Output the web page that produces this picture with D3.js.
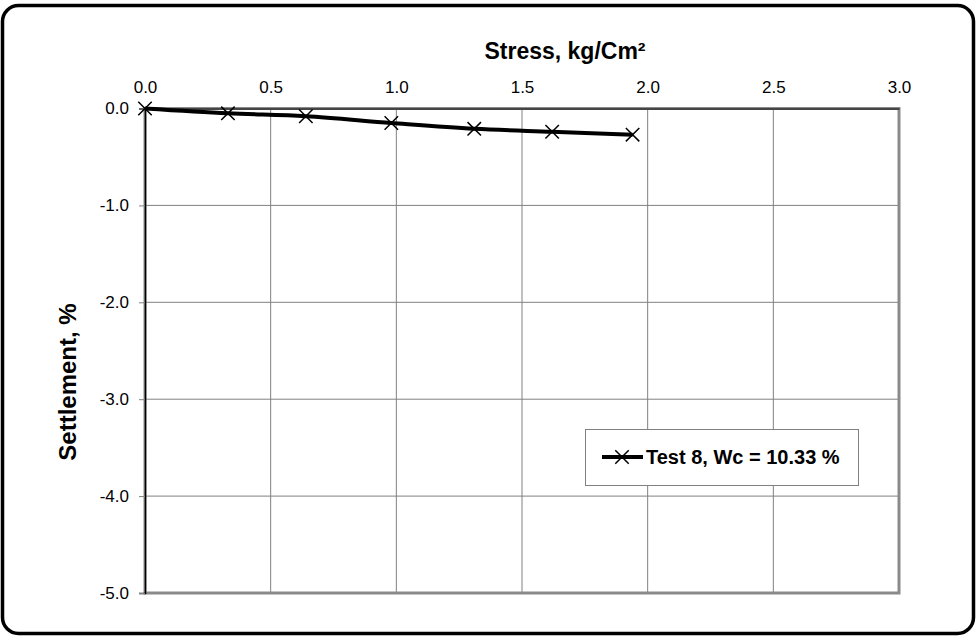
<!DOCTYPE html>
<html>
<head>
<meta charset="utf-8">
<script src="https://cdn.jsdelivr.net/npm/d3@7"></script>
<style>
  html, body { margin: 0; padding: 0; background: #fff; }
  svg { display: block; font-family: "Liberation Sans", Arial, sans-serif; }
</style>
</head>
<body>
<svg id="chart" width="976" height="637"></svg>
<script>
// Load test readings: applied stress (kg/cm²) and measured settlement (%)
const stress = [0, 0.33, 0.64, 0.98, 1.31, 1.62, 1.94];
const settlement = [0, -0.05, -0.08, -0.15, -0.21, -0.24, -0.27];
const seriesName = "Test 8, Wc = 10.33 %";

const xTicks = [0, 0.5, 1.0, 1.5, 2.0, 2.5, 3.0];
const yTicks = [0, -1, -2, -3, -4, -5];
const xTitle = "Stress, kg/Cm²";
const yTitle = "Settlement, %";

const svg = d3.select("#chart");
const W = 976, H = 637;
const plot = { left: 145, right: 899, top: 108.5, bottom: 593 };
const fmt = d => d.toFixed(1);

// Outer frame
svg.append("rect")
  .attr("x", 2.5).attr("y", 5.5)
  .attr("width", W - 5).attr("height", H - 9)
  .attr("rx", 16).attr("ry", 16)
  .attr("fill", "#fff").attr("stroke", "#000").attr("stroke-width", 3.5);

const x = d3.scaleLinear().domain([0, 3]).range([plot.left, plot.right]);
const y = d3.scaleLinear().domain([0, -5]).range([plot.top, plot.bottom]);

// Grid lines
const grid = svg.append("g");
grid.selectAll(".vg").data(xTicks.slice(1, -1)).join("line")
  .attr("x1", d => x(d)).attr("x2", d => x(d))
  .attr("y1", plot.top).attr("y2", plot.bottom)
  .attr("stroke", "#808080").attr("stroke-width", 1);
grid.selectAll(".hg").data(yTicks.slice(1, -1)).join("line")
  .attr("x1", plot.left).attr("x2", plot.right)
  .attr("y1", d => y(d)).attr("y2", d => y(d))
  .attr("stroke", "#808080").attr("stroke-width", 1);

// Plot area border
svg.append("rect")
  .attr("x", plot.left).attr("y", plot.top)
  .attr("width", plot.right - plot.left).attr("height", plot.bottom - plot.top)
  .attr("fill", "none").attr("stroke", "#8a8a8a").attr("stroke-width", 3);

// Top x axis (stress)
const xAxis = svg.append("g")
  .attr("transform", `translate(0,${plot.top})`)
  .call(d3.axisTop(x).tickValues(xTicks).tickFormat(fmt).tickSize(0).tickPadding(16));
xAxis.select(".domain").attr("stroke", "#000").attr("stroke-width", 1);
xAxis.selectAll("text").attr("font-size", 17).attr("fill", "#000")
  .attr("font-family", "Liberation Sans, Arial, sans-serif");

// Left y axis (settlement)
const yAxis = svg.append("g")
  .attr("transform", `translate(${plot.left},0)`)
  .call(d3.axisLeft(y).tickValues(yTicks).tickFormat(fmt).tickSize(6).tickPadding(10));
yAxis.select(".domain").attr("stroke", "#000").attr("stroke-width", 1.5);
yAxis.selectAll(".tick line").attr("stroke", "#808080");
yAxis.selectAll("text").attr("font-size", 17).attr("fill", "#000")
  .attr("font-family", "Liberation Sans, Arial, sans-serif");

// Axis titles
svg.append("text")
  .attr("x", 565).attr("y", 59)
  .attr("text-anchor", "middle")
  .attr("font-size", 23).attr("font-weight", "bold")
  .text(xTitle);
svg.append("text")
  .attr("transform", "translate(76,382) rotate(-90)")
  .attr("text-anchor", "middle")
  .attr("font-size", 24).attr("font-weight", "bold")
  .text(yTitle);

// Series line (smoothed) and X markers
const pts = stress.map((s, i) => [s, settlement[i]]);
const line = d3.line().x(d => x(d[0])).y(d => y(d[1])).curve(d3.curveCatmullRom.alpha(0.5));
svg.append("path")
  .attr("d", line(pts))
  .attr("fill", "none").attr("stroke", "#000").attr("stroke-width", 4)
  .attr("stroke-linejoin", "round");

const cross = d3.symbol().type(d3.symbolX).size(120);
svg.selectAll(".mk").data(pts).join("path")
  .attr("transform", d => `translate(${x(d[0])},${y(d[1])})`)
  .attr("d", cross)
  .attr("fill", "none").attr("stroke", "#000").attr("stroke-width", 1.5);

// Legend
const lg = svg.append("g");
lg.append("rect")
  .attr("x", 585.5).attr("y", 429.5).attr("width", 273).attr("height", 56)
  .attr("fill", "#fff").attr("stroke", "#808080").attr("stroke-width", 1);
lg.append("line")
  .attr("x1", 602).attr("x2", 643).attr("y1", 457).attr("y2", 457)
  .attr("stroke", "#000").attr("stroke-width", 4);
lg.append("path")
  .attr("transform", "translate(622,457)")
  .attr("d", cross)
  .attr("fill", "none").attr("stroke", "#000").attr("stroke-width", 1.5);
lg.append("text")
  .attr("x", 646).attr("y", 464)
  .attr("font-size", 20).attr("font-weight", "bold")
  .text(seriesName);
</script>
</body>
</html>
